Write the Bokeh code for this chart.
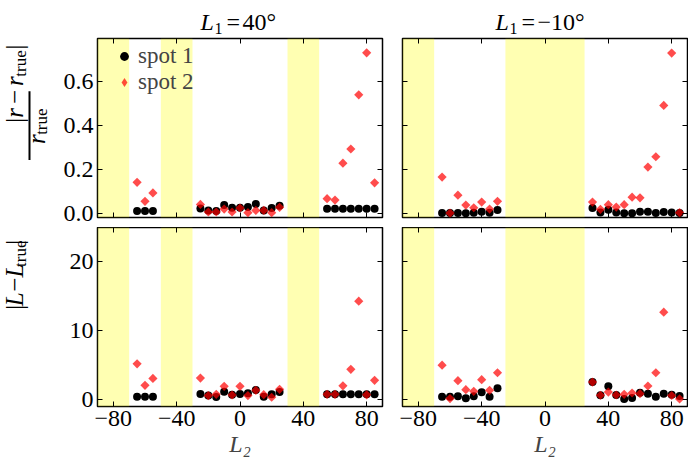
import math
from bokeh.plotting import figure
from bokeh.layouts import column, row
from bokeh.models import (BoxAnnotation, Label, Legend, LegendItem, FixedTicker,
                          LinearAxis, CustomJSTickFormatter, NumeralTickFormatter, Range1d)
from bokeh.embed import file_html
from bokeh.resources import INLINE

# ---------------- data ----------------
L1_values = ["40\u00b0", "\u221210\u00b0"]

L2_a = [-65, -60, -55, -25, -20, -15, -10, -5, 0, 5, 10, 15, 20, 25, 55, 60, 65, 70, 75, 80, 85]
r_spot1_a = [0.012, 0.012, 0.012, 0.024, 0.015, 0.012, 0.039, 0.027, 0.027, 0.030, 0.044, 0.015, 0.026, 0.036,
             0.023, 0.023, 0.023, 0.023, 0.023, 0.023, 0.023]
r_spot2_a = [0.142, 0.056, 0.094, 0.042, 0.008, 0.008, 0.021, 0.008, 0.026, 0.005, 0.015, 0.015, 0.005, 0.029,
             0.068, 0.062, 0.229, 0.293, 0.538, 0.728, 0.140]
L_spot1_a = [0.4, 0.4, 0.4, 0.82, 0.58, 0.39, 1.16, 0.72, 0.82, 0.92, 1.4, 0.43, 0.77, 1.1,
             0.77, 0.77, 0.77, 0.77, 0.77, 0.77, 0.77]
L_spot2_a = [5.2, 2.07, 3.08, 3.13, 0.58, 0.77, 1.93, 0.67, 1.93, 0.58, 1.35, 0.72, 0.34, 1.5,
             0.77, 0.77, 2.0, 4.4, 14.3, 0.7, 2.8]
bands_a = [(-90, -70), (-50, -30), (30, 50)]

L2_b = [-65, -60, -55, -50, -45, -40, -35, -30, 30, 35, 40, 45, 50, 55, 60, 65, 70, 75, 80, 85]
r_spot1_b = [0.003, 0.003, 0.003, 0.002, 0.005, 0.009, 0.005, 0.017,
             0.026, 0.006, 0.018, 0.006, 0.002, 0.002, 0.009, 0.009, 0.003, 0.008, 0.006, 0.003]
r_spot2_b = [0.166, 0.003, 0.084, 0.039, 0.027, 0.053, 0.021, 0.056,
             0.053, 0.020, 0.041, 0.030, 0.041, 0.075, 0.072, 0.211, 0.258, 0.490, 0.727, 0.005]
L_spot1_b = [0.4, 0.4, 0.5, 0.2, 0.5, 1.06, 0.4, 1.64,
             2.55, 0.63, 1.93, 0.67, 0.1, 0.24, 1.0, 0.87, 0.4, 0.87, 0.72, 0.53]
L_spot2_b = [5.0, 0.15, 2.75, 1.45, 1.2, 2.9, 1.35, 3.9,
             2.55, 0.63, 1.1, 0.67, 0.77, 0.96, 0.87, 1.98, 3.9, 12.7, 0.6, 0.1]
bands_b = [(-90, -70), (-25, 25)]

x_ticks = [-80, -40, 0, 40, 80]
r_ticks = [0.0, 0.2, 0.4, 0.6]
L_ticks = [0, 10, 20]
XR = (-90, 90)
R_YR = (-0.017, 0.793)
L_YR = (-1, 25)

FONT = "Liberation Serif"
TICK_FS = "24px"
MID = 0.3375  # distance baseline -> middle of font box, in em

W_IT = {"|": 0.275, "r": 0.389, "L": 0.556, "\u2212": 0.675}
W_RM = {"t": 0.278, "r": 0.333, "u": 0.5, "e": 0.444, "\u2212": 0.564, "=": 0.564,
        "\u00b0": 0.4, "|": 0.2}


def est(text, size, italic):
    tab = W_IT if italic else W_RM
    return sum(tab.get(c, 0.5) for c in text) * size


def style_axis(ax, ticks, show, fmt=None):
    ax.ticker = FixedTicker(ticks=ticks)
    ax.axis_line_color = None
    ax.major_tick_in = 5
    ax.major_tick_out = 0
    ax.minor_tick_line_color = None
    ax.major_tick_line_color = "black"
    ax.major_tick_line_width = 1
    if show:
        if fmt is not None:
            ax.formatter = fmt
        ax.major_label_text_font = FONT
        ax.major_label_text_font_size = TICK_FS
        ax.major_label_text_color = "black"
        ax.major_label_standoff = 4
    else:
        ax.formatter = CustomJSTickFormatter(code="return ''")
        ax.major_label_text_font_size = "0px"
        ax.major_label_standoff = 0


def make_panel(L2, s1, s2, bands, yr, yticks, yfmt, left_lab, bottom_lab, w, h, mb):
    p = figure(width=w, height=h, x_range=Range1d(*XR), y_range=Range1d(*yr),
               output_backend="svg", toolbar_location=None,
               x_axis_location=None, y_axis_location=None,
               min_border_left=mb[0], min_border_right=mb[1],
               min_border_top=mb[2], min_border_bottom=mb[3])
    p.grid.visible = False
    p.outline_line_color = "black"
    p.outline_line_width = 1.5
    p.background_fill_color = "white"
    p.border_fill_color = "white"
    for a, b in bands:
        p.add_layout(BoxAnnotation(left=a, right=b, fill_color="yellow", fill_alpha=0.3,
                                   line_color=None, level="underlay"))
    xfmt = CustomJSTickFormatter(code="return tick < 0 ? '\u2212' + Math.abs(tick) : tick.toString();")
    axes = {}
    for loc, ticks, show, fmt in [("below", x_ticks, bottom_lab, xfmt), ("above", x_ticks, False, None),
                                  ("left", yticks, left_lab, yfmt), ("right", yticks, False, None)]:
        ax = LinearAxis()
        style_axis(ax, ticks, show, fmt)
        p.add_layout(ax, loc)
        axes[loc] = ax
    if bottom_lab:
        ax = axes["below"]
        ax.axis_label = "L\u2082"
        ax.axis_label_text_font = FONT
        ax.axis_label_text_font_size = "24px"
        ax.axis_label_text_font_style = "italic"
        ax.axis_label_standoff = 2
    p.scatter(L2, s1, marker="circle", size=8, fill_color="black", line_color=None)
    p.scatter(L2, s2, marker="square", angle=math.pi / 4, size=6.5,
              fill_color="red", fill_alpha=0.7, line_color=None)
    return p


def strip(w, h, y_top):
    s = figure(width=w, height=h, x_range=Range1d(0, w), y_range=Range1d(y_top + h, y_top),
               output_backend="svg", toolbar_location=None,
               x_axis_location=None, y_axis_location=None, min_border=0)
    s.grid.visible = False
    s.outline_line_color = None
    s.background_fill_color = "white"
    s.border_fill_color = "white"
    return s


def lab(p, x, y, text, size=24, italic=False):
    # (x, y) is the start of the baseline (page pixels)
    p.add_layout(Label(x=x, y=y - MID * size, text=text, text_font=FONT, text_font_size=f"{size}px",
                       text_font_style="italic" if italic else "normal",
                       text_align="left", text_baseline="middle", text_color="black"))


def vlab(p, x, y, text, size=24, italic=False):
    # rotated text reading upwards; x is the baseline position
    p.add_layout(Label(x=x - MID * size, y=y, text=text, text_font=FONT, text_font_size=f"{size}px",
                       text_font_style="italic" if italic else "normal", angle=math.pi / 2,
                       text_align="left", text_baseline="middle", text_color="black"))


def vchain(p, x_base, y_start, pieces):
    y = y_start
    for text, size, italic, dx, gap in pieces:
        y -= gap
        vlab(p, x_base + dx, y, text, size, italic)
        y -= est(text, size, italic)


tl = make_panel(L2_a, r_spot1_a, r_spot2_a, bands_a, R_YR, r_ticks, NumeralTickFormatter(format="0.0"),
                True, False, 340, 190, (45, 10, 1, 10))
tr = make_panel(L2_b, r_spot1_b, r_spot2_b, bands_b, R_YR, r_ticks, None,
                False, False, 296, 190, (10, 1, 1, 10))
bl = make_panel(L2_a, L_spot1_a, L_spot2_a, bands_a, L_YR, L_ticks, None,
                True, True, 340, 237, (45, 10, 0, 58))
br = make_panel(L2_b, L_spot1_b, L_spot2_b, bands_b, L_YR, L_ticks, None,
                False, True, 296, 237, (10, 1, 0, 58))

# legend (glyph-only renderers carry the legend markers)
nan = float("nan")
g1 = tl.scatter([nan], [nan], marker="circle", size=8, fill_color="black", line_color=None)
g2 = tl.scatter([nan], [nan], marker="diamond", size=11, fill_color="red", fill_alpha=0.7, line_color=None)
legend = Legend(items=[LegendItem(label="spot 1", renderers=[g1]),
                       LegendItem(label="spot 2", renderers=[g2])],
                location=(16, 122.5), padding=0, margin=0, spacing=0,
                glyph_width=22, glyph_height=22, label_height=25, label_standoff=3,
                label_text_font=FONT, label_text_font_size="23px", label_text_baseline="middle",
                background_fill_alpha=0, border_line_color=None)
tl.add_layout(legend)

# title strip
top = strip(688, 37, 0)
for x0, val in [(200, L1_values[0]), (495, L1_values[1])]:
    lab(top, x0, 30, "L", 24, True)
    lab(top, x0 + 14, 33, "1", 16)
    lab(top, x0 + 26, 30, "=", 24)
    lab(top, x0 + 42, 30, val, 24)

# left strips with y labels
ls_top = strip(52, 190, 37)
vchain(ls_top, 22.5, 128, [("|", 25, True, 0, 0), ("r", 25, True, 0, 0), ("\u2212", 25, False, 0, 5),
                           ("r", 25, True, 0, 5), ("true", 17, False, 3, 0), ("|", 25, True, 0, 1)])
vchain(ls_top, 44, 149, [("r", 25, True, 0, 0), ("true", 17, False, 3, 0)])
ls_top.add_layout(BoxAnnotation(left=28, right=30, top=93, bottom=166,
                                fill_color="black", fill_alpha=1, line_color=None))

ls_bot = strip(52, 237, 227)
vchain(ls_bot, 22.5, 338, [("|", 25, True, 0, 0), ("L", 25, True, 0, 0), ("\u2212", 25, False, 0, 5),
                           ("L", 25, True, 0, 5), ("true", 17, False, 3, 0), ("|", 25, True, 0, 1)])

layout = column(top, row(ls_top, tl, tr, spacing=0), row(ls_bot, bl, br, spacing=0), spacing=0)
open("out.html", "w").write(file_html(layout, INLINE))
